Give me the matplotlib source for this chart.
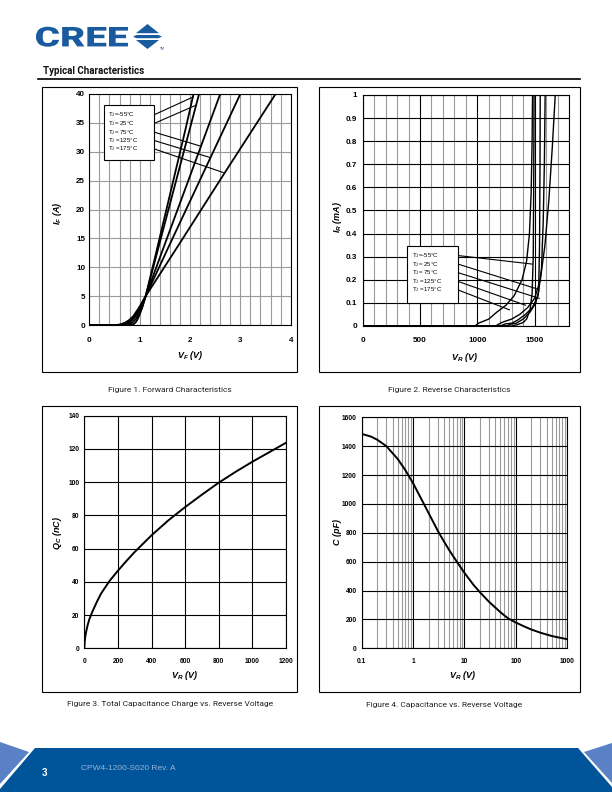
import numpy as np
import matplotlib.pyplot as plt
from matplotlib.patches import Rectangle, Polygon, PathPatch
from matplotlib.textpath import TextPath
from matplotlib.font_manager import FontProperties
from matplotlib.transforms import Affine2D

plt.rcParams['mathtext.default'] = 'regular'

# Figure 1: forward characteristics, VF (V) vs IF (A)
fwd_labels = ['=-55°C', '= 25°C', '= 75°C', ' =125°C', ' =175°C']
fwd_v = [
    [0, 0.82, 0.88, 0.92, 0.96, 1.0, 1.05, 1.12, 1.3, 1.6, 1.9, 2.07],
    [0, 0.72, 0.8, 0.86, 0.92, 0.98, 1.05, 1.12, 1.4, 1.8, 2.18],
    [0, 0.65, 0.73, 0.8, 0.87, 0.94, 1.02, 1.12, 1.5, 2.0, 2.6],
    [0, 0.6, 0.68, 0.76, 0.83, 0.9, 1.0, 1.12, 1.6, 2.3, 3.0],
    [0, 0.55, 0.63, 0.71, 0.79, 0.87, 0.98, 1.12, 1.8, 2.7, 3.7],
]
fwd_i = [
    [0, 0, 0.15, 0.45, 1.0, 1.8, 3.0, 5.0, 11.5, 22.5, 33.5, 40],
    [0, 0, 0.15, 0.45, 1.0, 1.8, 3.1, 5.0, 14.3, 27.5, 40],
    [0, 0, 0.15, 0.45, 1.0, 1.7, 3.0, 5.0, 14.0, 25.8, 40],
    [0, 0, 0.15, 0.45, 0.9, 1.6, 3.0, 5.0, 14.0, 27.0, 40],
    [0, 0, 0.15, 0.4, 0.85, 1.5, 2.9, 5.0, 14.2, 26.5, 40],
]

# Figure 2: reverse characteristics, VR (V) vs IR (mA)
rev_labels = ['=-55°C', '= 25°C', '= 75°C', ' =125°C', ' =175°C']
rev_v = [
    [0, 1300, 1350, 1400, 1430, 1460, 1478, 1488, 1492, 1495],
    [0, 1250, 1290, 1340, 1400, 1460, 1510, 1535, 1543, 1547, 1549],
    [0, 1200, 1250, 1300, 1350, 1420, 1480, 1530, 1560, 1575, 1585, 1592],
    [0, 1160, 1200, 1240, 1300, 1370, 1440, 1500, 1550, 1590, 1625, 1655, 1680],
    [0, 980, 1010, 1050, 1100, 1170, 1250, 1320, 1390, 1430, 1455, 1470, 1478, 1482],
]
rev_i = [
    [0, 0, 0.006, 0.015, 0.03, 0.07, 0.14, 0.3, 0.6, 1.0],
    [0, 0, 0.008, 0.012, 0.03, 0.06, 0.1, 0.15, 0.35, 0.7, 1.0],
    [0, 0, 0.01, 0.012, 0.025, 0.05, 0.08, 0.13, 0.25, 0.45, 0.7, 1.0],
    [0, 0, 0.012, 0.02, 0.03, 0.05, 0.08, 0.12, 0.2, 0.35, 0.55, 0.78, 1.0],
    [0, 0, 0.012, 0.02, 0.03, 0.06, 0.09, 0.13, 0.2, 0.28, 0.4, 0.58, 0.8, 1.0],
]

# Figure 3: total capacitance charge, VR (V) vs QC (nC)
qc_v = [0, 2, 5, 10, 20, 30, 50, 75, 100, 150, 200, 250, 300, 400, 500, 600, 700, 800, 900,
        1000, 1100, 1200]
qc_q = [0, 3.5, 6.5, 9.5, 14, 17.5, 22.5, 28, 33, 40.5, 46.7, 52.5, 58, 68, 77, 85, 92.5,
        99.7, 106.2, 112.3, 118, 123.7]

# Figure 4: capacitance, VR (V) vs C (pF)
cap_v = [0.1, 0.15, 0.2, 0.3, 0.5, 0.7, 1, 1.5, 2, 3, 4, 5, 7, 10, 15, 20, 30, 50, 70, 100,
         150, 200, 300, 500, 700, 1000]
cap_c = [1485, 1467, 1445, 1401, 1312, 1236, 1143, 1023, 937, 816, 739, 682, 603, 522, 439,
         388, 322, 250, 208, 178, 149, 130, 108, 85, 74, 63]

W, H = 612, 792
fig = plt.figure(figsize=(W / 100, H / 100), dpi=100)

# page layer in pixel coordinates
pg = fig.add_axes([0, 0, 1, 1])
pg.set_xlim(0, W)
pg.set_ylim(H, 0)
pg.axis('off')

blue = '#1a5a9e'
tick_font = ['Liberation Sans Narrow', 'Liberation Sans']
lab_font = ['Liberation Sans', 'DejaVu Sans']


def panel(x0, y0, x1, y1):
    ax = fig.add_axes([x0 / W, 1 - y1 / H, (x1 - x0) / W, (y1 - y0) / H])
    ax.set_facecolor('white')
    for s in ax.spines.values():
        s.set_color('black')
        s.set_linewidth(0.8)
    ax.tick_params(which='both', length=0)
    return ax


def style_ticks(ax, size, xpad, ypad):
    ax.tick_params(axis='x', pad=xpad)
    ax.tick_params(axis='y', pad=ypad)
    for lbl in ax.get_xticklabels() + ax.get_yticklabels():
        lbl.set_fontfamily(tick_font)
        lbl.set_fontweight('bold')
        lbl.set_fontsize(size)


def axis_label(x, y, s, rot=0):
    pg.text(x, y, s, ha='center', va='center', rotation=rot, fontsize=6.5,
            family=lab_font, weight='bold', style='italic')


# ---- header ----
fp = FontProperties(family='Roboto', weight='black')
tp = TextPath((0, 0), 'CREE', size=10, prop=fp)
bb = tp.get_extents()
sx = (128 - 36) / bb.width
sy = (46.7 - 26.7) / bb.height
tr = Affine2D().translate(-bb.x0, -bb.y0).scale(sx, -sy).translate(36, 46.7)
pg.add_patch(PathPatch(tr.transform_path(tp), facecolor=blue, edgecolor='none'))
pg.add_patch(Polygon([(136, 33.2), (159, 33.2), (147.5, 24)], closed=True, color=blue, lw=0))
pg.add_patch(Polygon([(133, 36.6), (136.5, 35), (158.5, 35), (162, 36.6), (158.5, 38.2),
                      (136.5, 38.2)], closed=True, color=blue, lw=0))
pg.add_patch(Polygon([(136, 40), (159, 40), (147.5, 49)], closed=True, color=blue, lw=0))
pg.text(160, 48.5, 'TM', fontsize=2.3, color=blue, va='center')

pg.text(43, 70.5, 'Typical Characteristics', fontsize=7, weight='bold', family='Roboto',
        va='center', ha='left', color='#111111')
pg.plot([38, 580], [79, 79], color='black', lw=1.2)

# ---- panel boxes ----
for (x0, y0, x1, y1) in [(41.5, 86.5, 297, 371.5), (319, 86.5, 579.5, 371.5),
                         (41.5, 406, 297, 691.5), (319, 406, 579.5, 691.5)]:
    pg.add_patch(Rectangle((x0, y0), x1 - x0, y1 - y0, fill=False, ec='black', lw=0.8))

# ---- captions ----
cap_kw = dict(fontsize=6, family='Roboto', ha='center', va='center', color='#222222')
pg.text(170, 390, 'Figure 1. Forward Characteristics', **cap_kw)
pg.text(449, 390, 'Figure 2. Reverse Characteristics', **cap_kw)
pg.text(170, 704, 'Figure 3. Total Capacitance Charge vs. Reverse Voltage', **cap_kw)
pg.text(444, 705, 'Figure 4. Capacitance vs. Reverse Voltage', **cap_kw)

# ---- footer ----
dark = '#00559a'
light = '#5a80c6'
pg.add_patch(Polygon([(35, 748), (578, 748), (612, 787), (612, 792), (0, 792), (0, 789)],
                     closed=True, color=dark, lw=0))
pg.add_patch(Polygon([(0, 742), (29, 752), (0, 784)], closed=True, color=light, lw=0))
pg.add_patch(Polygon([(612, 743), (584, 752), (612, 783)], closed=True, color=light, lw=0))
pg.text(42, 773, '3', fontsize=7, weight='bold', color='white', family=lab_font,
        ha='left', va='center')
pg.text(81, 769, 'CPW4-1200-S020 Rev. A', fontsize=6, color='#9db2d8', family=lab_font,
        ha='left', va='center')

# ---- Figure 1 ----
ax1 = panel(89.3, 94, 290.7, 325)
ax1.set_xlim(0, 4)
ax1.set_ylim(0, 40)
ax1.set_xticks(np.arange(0, 5, 1))
ax1.set_xticks(np.arange(0, 4.01, 0.2), minor=True)
ax1.set_yticks(np.arange(0, 41, 5))
ax1.grid(which='both', color='#9a9a9a', lw=0.8)
ax1.set_axisbelow(True)
for v, i in zip(fwd_v, fwd_i):
    ax1.plot(v, i, color='black', lw=1.3, solid_joinstyle='round')
style_ticks(ax1, 5.8, 9, 3)
leg1 = [(2.065, 39.5), (2.13, 38.1), (2.2, 31.0), (2.4, 29.0), (2.66, 26.4)]
rows1 = [36.4, 34.9, 33.4, 31.95, 30.5]
ax1.add_patch(Rectangle((0.298, 28.5), 0.99, 9.6, facecolor='white', ec='black', lw=0.8, zorder=4))
for t, r, (ex, ey) in zip(fwd_labels, rows1, leg1):
    ax1.text(0.37, r, 'T$_J$' + t, fontsize=4.4, family=lab_font, va='center', zorder=5)
    ax1.plot([1.288, ex], [r, ey], color='black', lw=0.8, zorder=3)
axis_label(190, 356, 'V$_F$ (V)')
axis_label(57, 213, 'I$_F$ (A)', 90)

# ---- Figure 2 ----
ax2 = panel(362.7, 95, 569, 326)
ax2.set_xlim(0, 1800)
ax2.set_ylim(0, 1)
ax2.set_xticks([0, 500, 1000, 1500])
ax2.set_xticks(np.arange(0, 1801, 100), minor=True)
ax2.set_yticks(np.arange(0, 1.01, 0.1))
ax2.set_yticklabels(['0', '0.1', '0.2', '0.3', '0.4', '0.5', '0.6', '0.7', '0.8', '0.9', '1'])
ax2.grid(which='minor', axis='x', color='#9a9a9a', lw=0.8)
ax2.grid(which='major', color='black', lw=0.8)
ax2.set_axisbelow(True)
for v, i in zip(rev_v, rev_i):
    ax2.plot(v, i, color='black', lw=1.0)
style_ticks(ax2, 5.8, 8, 4)
leg2 = [(1480, 0.268), (1525, 0.16), (1540, 0.12), (1420, 0.09), (1280, 0.07)]
rows2 = [0.305, 0.268, 0.231, 0.193, 0.156]
ax2.add_patch(Rectangle((387, 0.10), 445, 0.246, facecolor='white', ec='black', lw=0.8, zorder=4))
for t, r, (ex, ey) in zip(rev_labels, rows2, leg2):
    ax2.text(430, r, 'T$_J$' + t, fontsize=4.4, family=lab_font, va='center', zorder=5)
    ax2.plot([832, ex], [r, ey], color='black', lw=0.8, zorder=3)
axis_label(465, 357, 'V$_R$ (V)')
axis_label(337, 217, 'I$_R$ (mA)', 90)

# ---- Figure 3 ----
ax3 = panel(84.3, 415.7, 286, 648.3)
ax3.set_xlim(0, 1200)
ax3.set_ylim(0, 140)
ax3.set_xticks(np.arange(0, 1201, 200))
ax3.set_yticks(np.arange(0, 141, 20))
ax3.grid(color='black', lw=0.8)
ax3.set_axisbelow(True)
ax3.plot(qc_v, qc_q, color='black', lw=1.4, solid_joinstyle='round')
style_ticks(ax3, 4.8, 7, 3.5)
axis_label(185, 675, 'V$_R$ (V)')
axis_label(58, 533, 'Q$_C$ (nC)', 90)

# ---- Figure 4 ----
ax4 = panel(361.7, 417.3, 567.3, 648.3)
ax4.set_xscale('log')
ax4.set_xlim(0.1, 1000)
ax4.set_ylim(0, 1600)
ax4.set_xticks([0.1, 1, 10, 100, 1000])
ax4.set_xticklabels(['0.1', '1', '10', '100', '1000'])
ax4.set_xticks([m * 10.0 ** e for e in range(-1, 3) for m in range(2, 10)], minor=True)
ax4.set_xticklabels([], minor=True)
ax4.set_yticks(np.arange(0, 1601, 200))
ax4.grid(which='minor', axis='x', color='#9a9a9a', lw=0.8)
ax4.grid(which='major', color='black', lw=0.8)
ax4.set_axisbelow(True)
ax4.plot(cap_v, cap_c, color='black', lw=1.4, solid_joinstyle='round')
style_ticks(ax4, 4.8, 7, 3.5)
axis_label(463, 676, 'V$_R$ (V)')
axis_label(337, 532, 'C (pF)', 90)

fig.savefig('out.png', dpi=100)
